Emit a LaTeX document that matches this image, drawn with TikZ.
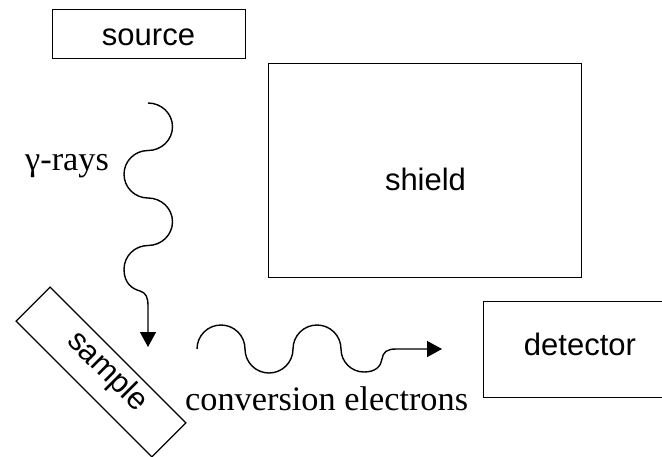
\documentclass[tikz,border=0pt]{standalone}
\usepackage{fontspec}
\setmainfont{Liberation Serif}
\setsansfont{Liberation Sans}
\usetikzlibrary{arrows.meta}

\tikzset{
  frame/.style={draw=black, line width=1.3pt, inner sep=0pt, anchor=north west},
  boxtext/.style={font=\sffamily\fontsize{31}{36}\selectfont, inner sep=0pt},
  labeltext/.style={font=\rmfamily\fontsize{34.3}{40}\selectfont, inner sep=0pt},
  wave/.style={line width=1.4pt, line join=round},
  tip/.style={-{Triangle[length=15pt,width=16pt]}}
}

\begin{document}
\begin{tikzpicture}[x=1pt, y=1pt]
  \useasboundingbox (0,0) rectangle (662,-456);
  \clip (0,0) rectangle (662,-456);

  % boxes
  \node[frame, minimum width=193pt, minimum height=49pt] (sourcebox) at (52,-9) {};
  \node[boxtext, anchor=base] (source) at (148.5,-45) {source};

  \node[frame, minimum width=313pt, minimum height=214pt] (shieldbox) at (268,-63) {};
  \node[boxtext, anchor=base] (shield) at (425.5,-190) {shield};

  \node[frame, minimum width=200pt, minimum height=96pt] (detectorbox) at (483,-300.5) {};
  \node[boxtext, anchor=base] (detector) at (580,-355) {detector};

  % tilted sample plate
  \node[draw=black, line width=1.3pt, minimum width=192pt, minimum height=48pt,
        rotate=-45, inner sep=0pt] (samplebox) at (101,-372) {};
  \node[boxtext, rotate=-45] (sample) at (107,-372) {sample};

  % gamma rays from the source down onto the sample
  \coordinate (gstart) at (148,-103);
  \coordinate (gend) at (148,-347);
  \draw[wave, tip] (gstart)
      arc[start angle=90, end angle=-90, x radius=24.5pt, y radius=23.75pt]
      arc[start angle=90, end angle=270, x radius=24pt, y radius=23.75pt]
      arc[start angle=90, end angle=-90, x radius=24.5pt, y radius=23.75pt]
      arc[start angle=90, end angle=180, x radius=24pt, y radius=23.75pt]
      .. controls (124,-284) and (133,-289) .. (140,-291)
      .. controls (146,-293) and (148,-297) .. (148,-306)
      -- (gend);
  \node[labeltext, anchor=base west] (gamma) at (25,-170) {γ-rays};

  % conversion electrons towards the detector
  \coordinate (estart) at (197,-349);
  \coordinate (eend) at (442,-349);
  \draw[wave, tip] (estart)
      arc[start angle=180, end angle=0, radius=24pt]
      arc[start angle=180, end angle=360, radius=24pt]
      arc[start angle=180, end angle=0, radius=24pt]
      arc[start angle=180, end angle=270, radius=23pt]
      .. controls (376,-372) and (381,-366) .. (382,-359)
      .. controls (383,-352) and (387,-349) .. (396,-349)
      -- (eend);
  \node[labeltext, anchor=base west] (electrons) at (185,-410) {conversion electrons};
\end{tikzpicture}
\end{document}
